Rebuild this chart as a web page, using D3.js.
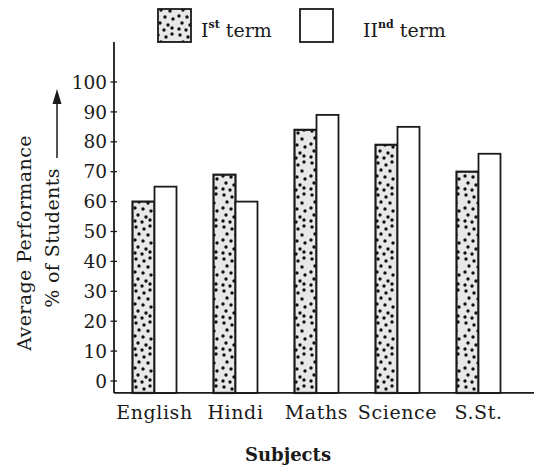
<!DOCTYPE html>
<html>
<head>
<meta charset="utf-8">
<script src="https://cdn.jsdelivr.net/npm/d3@7"></script>
<style>
  html, body { margin: 0; padding: 0; background: #fff; }
  svg { display: block; }
  text { font-family: "DejaVu Serif", serif; fill: #1a1a1a; }
</style>
</head>
<body>
<svg id="chart" width="534" height="472"></svg>
<script>
const categories = ["English", "Hindi", "Maths", "Science", "S.St."];
const term1 = [60, 69, 84, 79, 70];
const term2 = [65, 60, 89, 85, 76];
const yTicks = [0, 10, 20, 30, 40, 50, 60, 70, 80, 90, 100];
const seriesNames = ["I", "II"];
const seriesSup = ["st", "nd"];

const svg = d3.select("#chart");
const W = 534, H = 472;
const axisX = 114;

const y = d3.scaleLinear().domain([0, 100]).range([381, 82]);
const baseY = y(-4); // x-axis line sits a little below the zero tick
const x = d3.scaleBand().domain(categories).range([axisX, 519])
  .paddingInner(0.457).paddingOuter(0.2285);
const xs = d3.scaleBand().domain([0, 1]).range([0, x.bandwidth()]);

// dotted pattern
const defs = svg.append("defs");
const pat = defs.append("pattern").attr("id", "dots")
  .attr("patternUnits", "userSpaceOnUse").attr("width", 22).attr("height", 32);
pat.append("rect").attr("width", 22).attr("height", 32).attr("fill", "#e8e8e8");
const dotPos = [[4,3],[12,5],[18,2],[7,10],[16,11],[3,16],[11,17],[19,19],
                [6,23],[14,25],[3,29],[10,30],[18,28]];
pat.selectAll("circle").data(dotPos).join("circle")
  .attr("cx", d => d[0]).attr("cy", d => d[1]).attr("r", 1.7).attr("fill", "#111");

// bars
const data = categories.map((c, i) => ({ c, v: [term1[i], term2[i]] }));
const g = svg.append("g");
data.forEach(d => {
  d.v.forEach((v, k) => {
    g.append("rect")
      .attr("x", x(d.c) + xs(k))
      .attr("y", y(v))
      .attr("width", xs.bandwidth())
      .attr("height", baseY - y(v))
      .attr("fill", k === 0 ? "url(#dots)" : "#fff")
      .attr("stroke", "#1a1a1a")
      .attr("stroke-width", k === 0 ? 2.2 : 1.8);
  });
});

// y axis
svg.append("line").attr("x1", axisX).attr("x2", axisX).attr("y1", 42).attr("y2", baseY)
  .attr("stroke", "#1a1a1a").attr("stroke-width", 1.8);
const yt = svg.append("g").selectAll("g").data(yTicks).join("g")
  .attr("transform", d => `translate(0,${y(d)})`);
yt.append("line").attr("x1", axisX - 3.5).attr("x2", axisX + 3).attr("stroke", "#1a1a1a").attr("stroke-width", 1.3);
yt.append("text").attr("x", 107).attr("dy", "0.36em").attr("text-anchor", "end")
  .style("font-size", "18.5px").text(d => d);

// x axis
svg.append("line").attr("x1", axisX).attr("x2", W).attr("y1", baseY).attr("y2", baseY)
  .attr("stroke", "#1a1a1a").attr("stroke-width", 1.8);
svg.append("g").selectAll("text").data(categories).join("text")
  .attr("x", d => x(d) + x.bandwidth() / 2).attr("y", 419)
  .attr("text-anchor", "middle").style("font-size", "19px").style("letter-spacing", "0.6px").text(d => d);

svg.append("text").attr("x", 288).attr("y", 461).attr("text-anchor", "middle")
  .style("font-size", "18px").style("font-weight", "bold").text("Subjects");

// y title
svg.append("text").attr("transform", "translate(31,243) rotate(-90)")
  .attr("text-anchor", "middle").style("font-size", "19px").style("letter-spacing", "0.4px").text("Average Performance");
svg.append("text").attr("transform", "translate(59,238) rotate(-90)")
  .attr("text-anchor", "middle").style("font-size", "19px").style("letter-spacing", "0.4px").text("% of Students");
svg.append("line").attr("x1", 57).attr("x2", 57).attr("y1", 158).attr("y2", 102)
  .attr("stroke", "#1a1a1a").attr("stroke-width", 1.5);
svg.append("path").attr("d", "M57,89 L52.5,104 L61.5,104 Z").attr("fill", "#1a1a1a");

// legend
const legX = [158, 300], legTextX = [201, 363];
seriesNames.forEach((s, k) => {
  svg.append("rect").attr("x", legX[k]).attr("y", 9).attr("width", 33).attr("height", 33)
    .attr("fill", k === 0 ? "url(#dots)" : "#fff").attr("stroke", "#1a1a1a").attr("stroke-width", 1.8);
  const t = svg.append("text").attr("x", legTextX[k]).attr("y", 37).style("font-size", "19px");
  t.append("tspan").text(s);
  t.append("tspan").attr("dy", -9).style("font-size", "11px").style("font-weight", "bold").text(seriesSup[k]);
  t.append("tspan").attr("dy", 9).text(" term");
});
</script>
</body>
</html>
